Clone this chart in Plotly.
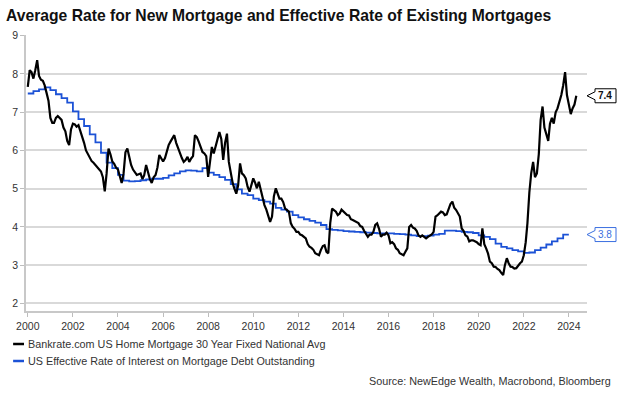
import plotly.graph_objects as go
import pandas as pd

# ---------------- data ----------------
chart_title = "Average Rate for New Mortgage and Effective Rate of Existing Mortgages"
name_new = "Bankrate.com US Home Mortgage 30 Year Fixed National Avg"
name_eff = "US Effective Rate of Interest on Mortgage Debt Outstanding"
source_text = "Source: NewEdge Wealth, Macrobond, Bloomberg"

# Bankrate 30y fixed, monthly from Jan 2000 to May 2024
new_rate = [
    7.66, 8.10, 8.05, 7.88, 8.10, 8.36, 7.95, 7.85, 7.82, 7.70, 7.50, 7.30,  # 2000
    6.85, 6.72, 6.72, 6.85, 6.90, 6.85, 6.80, 6.60, 6.50, 6.25, 6.14, 6.55,  # 2001
    6.70, 6.68, 6.62, 6.66, 6.50, 6.40, 6.20, 6.00, 5.90, 5.80, 5.72, 5.68,  # 2002
    5.62, 5.58, 5.53, 5.45, 5.30, 4.93, 5.40, 6.05, 5.90, 5.71, 5.65, 5.55,  # 2003
    5.50, 5.35, 5.15, 5.40, 5.95, 6.05, 5.85, 5.62, 5.50, 5.42, 5.36, 5.38,  # 2004
    5.40, 5.25, 5.35, 5.62, 5.40, 5.25, 5.15, 5.30, 5.36, 5.55, 5.88, 5.80,  # 2005
    5.71, 5.80, 5.95, 6.14, 6.23, 6.30, 6.40, 6.20, 6.05, 5.90, 5.80, 5.70,  # 2006
    5.75, 5.83, 5.70, 5.79, 5.85, 6.40, 6.35, 6.23, 6.10, 5.96, 5.92, 5.85,  # 2007
    5.31, 5.80, 6.09, 5.92, 6.10, 6.35, 6.48, 6.30, 5.75, 6.20, 6.44, 5.70,  # 2008
    5.40, 5.15, 5.00, 4.87, 5.09, 5.66, 5.40, 5.35, 5.27, 5.05, 4.92, 5.10,  # 2009
    5.27, 5.15, 5.01, 5.18, 4.95, 4.80, 4.57, 4.45, 4.30, 4.13, 4.27, 4.80,  # 2010
    5.01, 4.85, 4.74, 4.74, 4.65, 4.48, 4.45, 4.40, 4.10, 4.00, 3.95, 3.87,  # 2011
    3.87, 3.80, 3.78, 3.75, 3.70, 3.55, 3.48, 3.45, 3.40, 3.31, 3.28, 3.26,  # 2012
    3.40, 3.50, 3.52, 3.35, 3.31, 4.10, 4.48, 4.44, 4.40, 4.31, 4.35, 4.45,  # 2013
    4.40, 4.35, 4.31, 4.30, 4.20, 4.18, 4.15, 4.13, 4.10, 4.02, 4.00, 3.90,  # 2014
    3.80, 3.74, 3.80, 3.80, 3.87, 4.05, 4.09, 3.95, 3.74, 3.80, 3.80, 3.85,  # 2015
    3.78, 3.57, 3.60, 3.55, 3.44, 3.40, 3.31, 3.28, 3.26, 3.35, 3.44, 4.00,  # 2016
    4.05, 3.98, 3.96, 3.90, 3.78, 3.74, 3.78, 3.74, 3.70, 3.74, 3.78, 3.80,  # 2017
    3.87, 4.27, 4.30, 4.35, 4.40, 4.38, 4.31, 4.33, 4.48, 4.60, 4.66, 4.50,  # 2018
    4.44, 4.35, 4.27, 3.96, 3.90, 3.78, 3.75, 3.62, 3.65, 3.65, 3.63, 3.60,  # 2019
    3.55, 3.52, 3.96, 3.55, 3.44, 3.30, 3.09, 3.05, 2.96, 2.95, 2.90, 2.87,  # 2020
    2.80, 2.74, 3.00, 3.18, 3.05, 2.96, 2.95, 2.91, 2.92, 3.00, 3.05, 3.09,  # 2021
    3.26, 3.60, 4.10, 4.90, 5.40, 5.70, 5.30, 5.40, 5.90, 6.80, 7.15, 6.60,  # 2022
    6.40, 6.25, 6.70, 6.85, 6.70, 7.00, 7.10, 7.25, 7.45, 7.70, 8.05, 7.45,  # 2023
    7.20, 6.95, 7.10, 7.20, 7.43,                                            # 2024
]

# Effective rate on mortgage debt outstanding, quarterly from 2000Q1 (last point closes the final step)
eff_rate = [
    7.49, 7.55, 7.60, 7.65,  # 2000
    7.58, 7.47, 7.37, 7.25,  # 2001
    7.02, 6.82, 6.64, 6.42,  # 2002
    6.21, 5.94, 5.68, 5.54,  # 2003
    5.36, 5.21, 5.19, 5.20,  # 2004
    5.22, 5.24, 5.26, 5.26,  # 2005
    5.28, 5.35, 5.40, 5.45,  # 2006
    5.48, 5.47, 5.45, 5.54,  # 2007
    5.42, 5.36, 5.30, 5.23,  # 2008
    5.12, 4.98, 4.87, 4.83,  # 2009
    4.74, 4.70, 4.66, 4.61,  # 2010
    4.50, 4.45, 4.40, 4.31,  # 2011
    4.25, 4.20, 4.16, 4.11,  # 2012
    4.05, 3.94, 3.92, 3.91,  # 2013
    3.89, 3.88, 3.87, 3.86,  # 2014
    3.85, 3.84, 3.83, 3.83,  # 2015
    3.83, 3.82, 3.81, 3.80,  # 2016
    3.78, 3.76, 3.76, 3.77,  # 2017
    3.80, 3.82, 3.90, 3.90,  # 2018
    3.89, 3.87, 3.86, 3.84,  # 2019
    3.78, 3.74, 3.68, 3.56,  # 2020
    3.48, 3.44, 3.39, 3.36,  # 2021
    3.32, 3.33, 3.39, 3.46,  # 2022
    3.54, 3.62, 3.70, 3.80,  # 2023
    3.80,                    # 2024 (end of last step)
]

y_ticks = [2, 3, 4, 5, 6, 7, 8, 9]
x_tick_years = list(range(2000, 2025, 2))

new_dates = pd.date_range("2000-01-01", periods=len(new_rate), freq="MS")
eff_dates = pd.date_range("2000-01-01", periods=len(eff_rate), freq="QS")

# ---------------- layout geometry ----------------
W, H = 624, 395
L, R, T, B = 21, 37, 35, 84
PW, PH = W - L - R, H - T - B
PLOT_BOTTOM = H - B

def fx(px):
    return (px - L) / PW

def fy(py):
    return (PLOT_BOTTOM - py) / PH

BLACK = "#000000"
BLUE = "#1c52d6"
BLUE_LBL = "#3a6fe0"
TXT = "#333333"
FONT = "Liberation Sans, Arial, sans-serif"

fig = go.Figure()
fig.add_trace(go.Scatter(x=eff_dates, y=eff_rate, mode="lines", name=name_eff,
                         line=dict(color=BLUE, width=1.8, shape="hv")))
fig.add_trace(go.Scatter(x=new_dates, y=new_rate, mode="lines", name=name_new,
                         line=dict(color=BLACK, width=2.2)))

fig.update_layout(
    width=W, height=H,
    margin=dict(l=L, r=R, t=T, b=B),
    paper_bgcolor="white", plot_bgcolor="white",
    showlegend=False,
    font=dict(family=FONT, color=TXT, size=11),
    title=dict(text="<b>" + chart_title + "</b>", x=6 / W, xref="container", xanchor="left",
               y=1 - 16 / H, yref="container", yanchor="middle",
               font=dict(family=FONT, size=15.7, color="#111111")),
)

fig.update_xaxes(
    type="date",
    range=["1999-12-03", "2024-10-21"],
    tickvals=[f"{y}-01-01" for y in x_tick_years],
    ticktext=[str(y) for y in x_tick_years],
    ticks="outside", ticklen=4, tickcolor="#bdbdbd", tickwidth=1,
    showline=True, linecolor="#c8c8c8", linewidth=2,
    showgrid=False, zeroline=False,
    tickfont=dict(family=FONT, size=10.5, color=TXT),
)
fig.update_yaxes(
    range=[1.8, 9.02],
    tickvals=y_ticks,
    ticks="outside", ticklen=4, tickcolor="#bdbdbd", tickwidth=1,
    showline=True, linecolor="#c8c8c8", linewidth=1.5,
    showgrid=True, gridcolor="#d9d9d9", gridwidth=1.5,
    zeroline=False,
    tickfont=dict(family=FONT, size=10.5, color=TXT),
)

# manual legend
for name, color, py in [(name_new, BLACK, 344), (name_eff, BLUE, 361)]:
    fig.add_shape(type="line", xref="paper", yref="paper",
                  x0=fx(8), x1=fx(19), y0=fy(py), y1=fy(py),
                  line=dict(color=color, width=2.5))
    fig.add_annotation(text=name, xref="paper", yref="paper", x=fx(21), y=fy(py),
                       xanchor="left", yanchor="middle", showarrow=False,
                       font=dict(family=FONT, size=10.8, color=TXT))

fig.add_annotation(text=source_text, xref="paper", yref="paper", x=fx(613), y=fy(381),
                   xanchor="right", yanchor="middle", showarrow=False,
                   font=dict(family=FONT, size=10.8, color=TXT))

# end-value callouts
callout_path = "M0,0 L8,-4 L8,-7 L29,-7 L29,7 L8,7 L8,4 Z"
for val, border, tcolor, bold in [(new_rate[-1], BLACK, "#111111", True),
                                  (eff_rate[-1], BLUE_LBL, BLUE_LBL, False)]:
    fig.add_shape(type="path", xref="paper", yref="y",
                  xsizemode="pixel", ysizemode="pixel", xanchor=1.0, yanchor=val,
                  path=callout_path, fillcolor="white",
                  line=dict(color=border, width=1))
    label = f"{val:.1f}"
    fig.add_annotation(text=(f"<b>{label}</b>" if bold else label), xref="paper", yref="y",
                       x=fx(605.5), y=val, xanchor="center", yanchor="middle",
                       showarrow=False, font=dict(family=FONT, size=10, color=tcolor))

fig.write_html("out.html", config={"displayModeBar": False},
               post_script="document.body.style.margin='0';")
